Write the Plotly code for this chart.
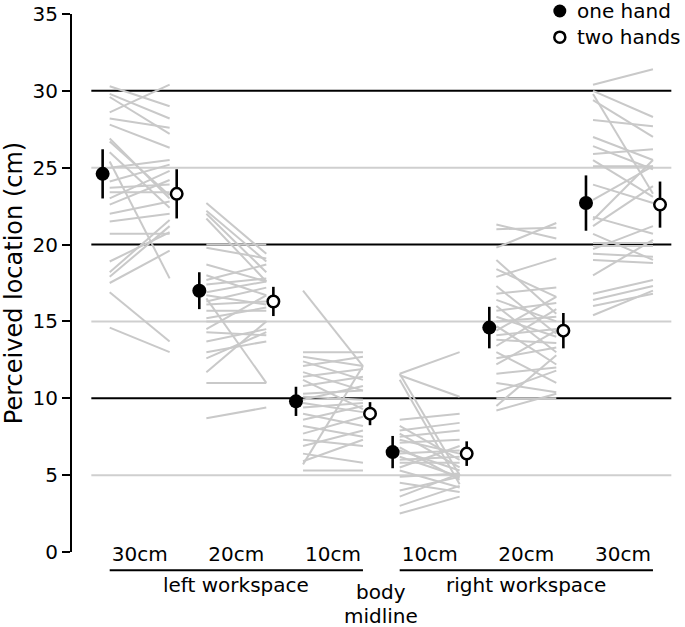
import plotly.graph_objects as go

# ---------------- data ----------------
conditions = ["30cm", "20cm", "10cm", "10cm", "20cm", "30cm"]
cond_pos = [0, 1, 2, 3, 4, 5]

one_mean = [24.6, 17.0, 9.8, 6.5, 14.6, 22.7]
one_err = [1.6, 1.2, 0.95, 1.05, 1.35, 1.8]
two_mean = [23.3, 16.3, 9.0, 6.4, 14.4, 22.6]
two_err = [1.6, 0.95, 0.75, 0.8, 1.15, 1.5]

# individual participants: (one hand, two hands)
left30_one = [30.3, 28.6, 29.8, 29.6, 28.2, 27.8, 26.9, 26.7, 26.0, 25.4, 25.0, 24.1, 23.7,
              23.4, 23.0, 22.6, 22.0, 21.5, 20.7, 18.9, 18.2, 17.5, 17.9, 16.9, 14.6]
left30_two = [29.0, 30.4, 28.2, 27.2, 27.6, 26.3, 23.0, 23.2, 22.4, 17.8, 25.5, 25.2, 23.9,
              23.4, 24.8, 24.2, 22.8, 22.0, 20.7, 20.8, 21.6, 19.6, 21.2, 13.7, 13.0]
left20_one = [22.7, 22.2, 22.0, 21.7, 20.0, 19.8, 18.7, 18.0, 17.7, 17.4, 16.9, 16.7, 16.3,
              16.1, 15.7, 15.2, 15.0, 14.5, 14.3, 13.7, 13.0, 12.6, 11.7, 11.0, 16.5, 8.7]
left20_two = [19.4, 18.9, 18.2, 17.6, 20.0, 19.1, 17.6, 16.7, 18.7, 17.8, 17.6, 16.1, 17.2,
              16.3, 15.7, 15.9, 15.0, 16.7, 14.1, 14.5, 13.7, 14.3, 15.0, 11.0, 11.0, 9.4]
left10_one = [17.0, 13.0, 12.7, 12.4, 12.1, 11.7, 11.4, 11.2, 10.8, 10.3, 10.1, 9.9, 9.7,
              9.4, 9.0, 8.6, 8.2, 7.7, 7.3, 6.9, 6.4, 5.9, 5.7, 5.3]
left10_two = [12.1, 13.0, 12.1, 11.2, 12.7, 10.5, 11.9, 9.3, 11.4, 10.5, 9.9, 10.8, 9.1,
              9.7, 8.2, 9.5, 7.5, 8.8, 6.9, 7.9, 5.8, 7.3, 12.1, 5.3]
right10_one = [11.6, 11.5, 11.6, 11.2, 8.6, 8.2, 7.9, 7.7, 7.5, 7.3, 7.1, 6.8, 6.6, 6.4,
               6.2, 6.0, 5.8, 5.5, 5.3, 4.9, 4.5, 4.0, 3.6, 3.0, 2.5]
right10_two = [13.0, 10.1, 5.0, 4.4, 9.0, 6.0, 8.4, 5.5, 7.9, 6.4, 7.3, 4.7, 5.3, 6.6,
               4.9, 6.2, 5.8, 6.9, 4.2, 5.1, 3.9, 4.9, 5.1, 4.3, 3.6]
right20_one = [21.3, 19.8, 21.0, 19.0, 18.4, 17.9, 17.3, 16.8, 16.4, 16.0, 15.7, 15.3, 15.0,
               14.7, 14.4, 14.1, 13.8, 13.4, 13.0, 12.6, 12.2, 11.6, 11.0, 10.4, 10.0, 9.5, 9.2]
right20_two = [20.4, 21.4, 21.1, 15.5, 16.6, 19.1, 14.2, 17.2, 15.0, 13.0, 16.2, 14.0, 15.3,
               12.2, 16.6, 14.5, 13.6, 15.8, 11.0, 13.3, 14.4, 12.0, 10.4, 11.8, 10.0, 12.8, 10.3]
right30_one = [30.4, 30.0, 29.8, 29.4, 28.1, 27.0, 26.4, 25.9, 25.5, 25.1, 23.9, 22.9, 21.8,
               21.6, 21.2, 20.7, 20.1, 19.9, 19.7, 19.4, 19.0, 18.0, 16.8, 16.4, 16.0, 15.4]
right30_two = [31.4, 28.3, 23.3, 27.0, 27.7, 25.5, 24.9, 26.2, 23.1, 25.1, 22.7, 25.1, 20.7,
               25.5, 23.8, 19.0, 20.1, 19.9, 21.2, 19.2, 18.8, 20.3, 17.7, 17.3, 16.8, 17.0]

subjects_one = [left30_one, left20_one, left10_one, right10_one, right20_one, right30_one]
subjects_two = [left30_two, left20_two, left10_two, right10_two, right20_two, right30_two]

black_grid = [10, 20, 30]
gray_grid = [5, 15, 25]
y_ticks = [0, 5, 10, 15, 20, 25, 30, 35]

# ---------------- styling constants ----------------
FONT = "DejaVu Sans"
FS = 20
MARK_OFF = 0.383
LINE_OFF = 0.31
SUBJ_COLOR = "#c9c9c9"

fig = go.Figure()

# individual participant lines
for g, ones, twos in zip(cond_pos, subjects_one, subjects_two):
    xs, ys = [], []
    for a, b in zip(ones, twos):
        xs += [g - LINE_OFF, g + LINE_OFF, None]
        ys += [a, b, None]
    fig.add_trace(go.Scatter(x=xs, y=ys, mode="lines",
                             line=dict(color=SUBJ_COLOR, width=2),
                             hoverinfo="skip", showlegend=False))

# group means
fig.add_trace(go.Scatter(
    x=[p - MARK_OFF for p in cond_pos], y=one_mean, mode="markers", name="one hand",
    marker=dict(symbol="circle", size=14, color="black", line=dict(width=0)),
    error_y=dict(type="data", array=one_err, color="black", thickness=2.6, width=0),
    showlegend=False))
fig.add_trace(go.Scatter(
    x=[p + MARK_OFF for p in cond_pos], y=two_mean, mode="markers", name="two hands",
    marker=dict(symbol="circle", size=11.5, color="white", line=dict(width=2.5, color="black")),
    error_y=dict(type="data", array=two_err, color="black", thickness=2.6, width=0),
    showlegend=False))

shapes = []
for v in gray_grid:
    shapes.append(dict(type="line", xref="x", yref="y", x0=-0.5, x1=5.5, y0=v, y1=v,
                       line=dict(color="#cfcfcf", width=2), layer="below"))
for v in black_grid:
    shapes.append(dict(type="line", xref="x", yref="y", x0=-0.5, x1=5.5, y0=v, y1=v,
                       line=dict(color="black", width=2), layer="below"))

# workspace brackets
BR_Y = -0.034
shapes.append(dict(type="line", xref="x", yref="paper", x0=cond_pos[0] - LINE_OFF,
                   x1=cond_pos[2] + LINE_OFF, y0=BR_Y, y1=BR_Y, line=dict(color="black", width=2)))
shapes.append(dict(type="line", xref="x", yref="paper", x0=cond_pos[3] - LINE_OFF,
                   x1=cond_pos[5] + LINE_OFF, y0=BR_Y, y1=BR_Y, line=dict(color="black", width=2)))

# legend symbols (manual)
LEG_X = 0.801
LEG_Y1 = 1.0056
LEG_Y2 = 0.957
shapes.append(dict(type="circle", xref="paper", yref="paper", xsizemode="pixel", ysizemode="pixel",
                   xanchor=LEG_X, yanchor=LEG_Y1, x0=-6.5, x1=6.5, y0=-6.5, y1=6.5,
                   fillcolor="black", line=dict(width=0)))
shapes.append(dict(type="circle", xref="paper", yref="paper", xsizemode="pixel", ysizemode="pixel",
                   xanchor=LEG_X, yanchor=LEG_Y2, x0=-5.5, x1=5.5, y0=-5.5, y1=5.5,
                   fillcolor="white", line=dict(width=2.5, color="black")))

def txt(text, x, y, xref="paper", xanchor="center"):
    return dict(text=text, xref=xref, yref="paper", x=x, y=y, xanchor=xanchor,
                yanchor="middle", showarrow=False,
                font=dict(size=FS, color="black", family=FONT))

annotations = [
    txt("one hand", 0.826, LEG_Y1, xanchor="left"),
    txt("two hands", 0.826, LEG_Y2, xanchor="left"),
    txt("left workspace", cond_pos[1], -0.062, xref="x"),
    txt("right workspace", cond_pos[4], -0.062, xref="x"),
    txt("body", 2.5, -0.0745, xref="x"),
    txt("midline", 2.5, -0.1185, xref="x"),
]

fig.update_layout(
    width=685, height=627,
    margin=dict(l=72, r=4, t=14, b=75, autoexpand=False),
    paper_bgcolor="white", plot_bgcolor="white",
    font=dict(family=FONT, size=FS, color="black"),
    shapes=shapes, annotations=annotations,
    xaxis=dict(range=[-0.7, 5.6], tickmode="array", tickvals=cond_pos, ticktext=conditions,
               showline=False, showgrid=False, zeroline=False, ticks="",
               anchor="free", position=0.022, tickfont=dict(size=FS, family=FONT)),
    yaxis=dict(range=[0, 35], tickmode="array", tickvals=y_ticks, showgrid=False,
               zeroline=False, showline=True, linecolor="black", linewidth=2,
               ticks="outside", ticklen=8, tickwidth=2, tickcolor="black",
               tickfont=dict(size=FS, family=FONT),
               title=dict(text="Perceived location (cm)", standoff=4,
                          font=dict(size=24, family=FONT))),
)

fig.write_html("out.html", config={"displayModeBar": False},
               post_script="document.body.style.margin='0px';")
